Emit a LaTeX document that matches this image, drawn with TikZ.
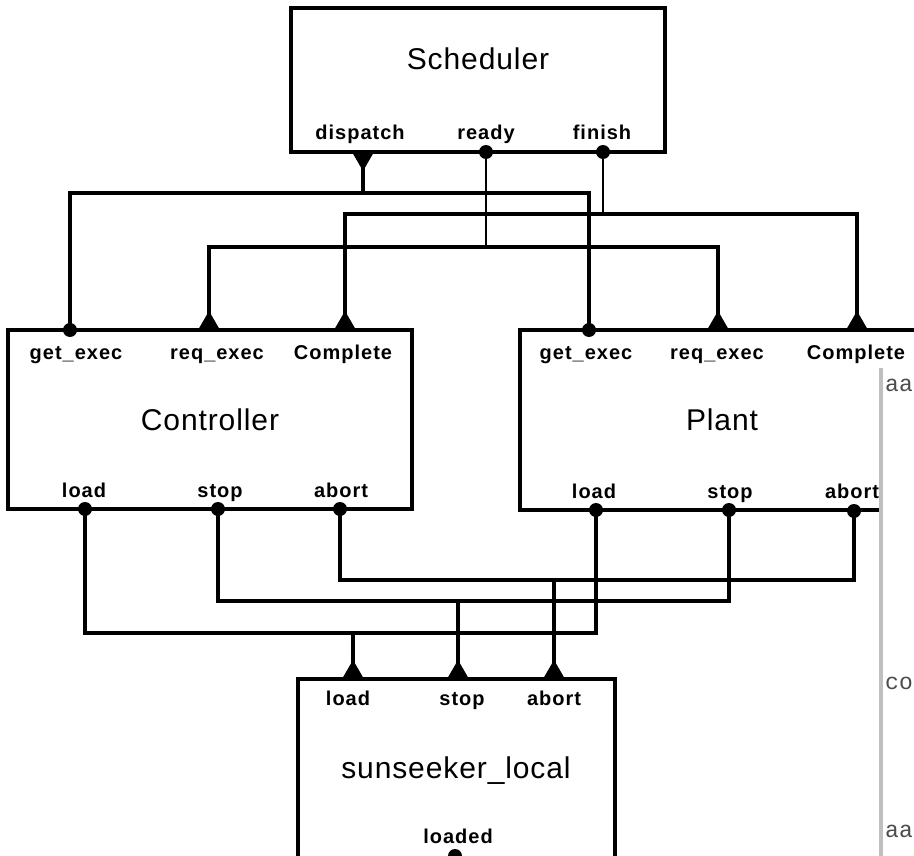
\documentclass[tikz,border=0pt]{standalone}
\usepackage{fontspec}
\setmainfont{Liberation Sans}
\newfontfamily\titlefont[LetterSpace=3]{Liberation Sans}
\newfontfamily\portfont[LetterSpace=5]{Liberation Sans}
\newfontfamily\overlaymono{Liberation Mono}
\tikzset{
  box/.style={draw, line width=3.6pt, rectangle, inner sep=0pt, outer sep=0pt},
  wire/.style={line width=3.4pt, line join=miter},
  thinwire/.style={line width=2.4pt},
  title/.style={font=\titlefont\fontsize{30}{32}\selectfont, anchor=base, inner sep=0pt},
  port/.style={font=\portfont\bfseries\fontsize{20}{22}\selectfont, anchor=base, inner sep=0pt},
  frag/.style={font=\overlaymono\fontsize{23}{25}\selectfont, anchor=base west, inner sep=0pt, text=black!70}
}
\newcommand\uptri[1]{\fill (#1) ++(-11,0) -- ++(22,0) -- ++(-11,-19) -- cycle;}
\newcommand\downtri[1]{\fill (#1) ++(-11,0) -- ++(22,0) -- ++(-11,19) -- cycle;}
\newcommand\portdot[1]{\fill (#1) circle[radius=7pt];}
\begin{document}
\begin{tikzpicture}[x=1pt,y=-1pt]
\useasboundingbox (0,0) rectangle (914,856);
\begin{scope}
\clip (0,0) rectangle (914,856);
% boxes
\node[box, minimum width=374pt, minimum height=144pt] (sched) at (478,80) {};
\node[box, minimum width=404pt, minimum height=179pt] (ctrl) at (210,419.5) {};
\node[box, minimum width=440pt, minimum height=180pt] (plant) at (740,420) {};
\node[box, minimum width=317pt, minimum height=221pt] (sun) at (456.5,789.5) {};
% ports
\coordinate (s-disp) at (363,152);
\coordinate (s-ready) at (486,152);
\coordinate (s-fin) at (603,152);
\coordinate (c-get) at (70,330);
\coordinate (c-req) at (209,330);
\coordinate (c-comp) at (345,330);
\coordinate (p-get) at (589,330);
\coordinate (p-req) at (718,330);
\coordinate (p-comp) at (857,330);
\coordinate (c-load) at (85,509);
\coordinate (c-stop) at (218,509);
\coordinate (c-abort) at (340,509);
\coordinate (p-load) at (596,510);
\coordinate (p-stop) at (729,510);
\coordinate (p-abort) at (854,511);
\coordinate (u-load) at (353,679);
\coordinate (u-stop) at (458,679);
\coordinate (u-abort) at (554,679);
\coordinate (u-loaded) at (455,856);
% bus junctions
\coordinate (b-disp) at (363,193);
\coordinate (b-ready) at (486,247);
\coordinate (b-fin) at (603,214);
\coordinate (b-load) at (353,633);
\coordinate (b-stop) at (458,601);
\coordinate (b-abort) at (554,580);
% wires top
\draw[wire] (c-get) |- (b-disp) -| (p-get);
\draw[wire] (s-disp) -- (b-disp);
\draw[wire] (c-req) |- (b-ready) -| (p-req);
\draw[thinwire] (s-ready) -- (b-ready);
\draw[wire] (c-comp) |- (b-fin) -| (p-comp);
\draw[thinwire] (s-fin) -- (b-fin);
% wires bottom
\draw[wire] (c-load) |- (b-load) -| (p-load);
\draw[wire] (b-load) -- (u-load);
\draw[wire] (c-stop) |- (b-stop) -| (p-stop);
\draw[wire] (b-stop) -- (u-stop);
\draw[wire] (c-abort) |- (b-abort) -| (p-abort);
\draw[wire] (b-abort) -- (u-abort);
% markers
\downtri{s-disp}
\portdot{s-ready}
\portdot{s-fin}
\portdot{c-get}
\uptri{c-req}
\uptri{c-comp}
\portdot{p-get}
\uptri{p-req}
\uptri{p-comp}
\portdot{c-load}
\portdot{c-stop}
\portdot{c-abort}
\portdot{p-load}
\portdot{p-stop}
\portdot{p-abort}
\uptri{u-load}
\uptri{u-stop}
\uptri{u-abort}
\portdot{u-loaded}
% titles
\node[title] (t-sched) at (478,70) {Scheduler};
\node[title] (t-ctrl) at (210,430) {Controller};
\node[title] (t-plant) at (722,430) {Plant};
\node[title] (t-sun) at (456,778) {sunseeker\_local};
% port labels
\node[port] (l-disp) at (360,140) {dispatch};
\node[port] (l-ready) at (486,140) {ready};
\node[port] (l-fin) at (602,140) {finish};
\node[port] (l-cget) at (76,359) {get\_exec};
\node[port] (l-creq) at (217,359) {req\_exec};
\node[port] (l-ccomp) at (343,359) {Complete};
\node[port] (l-pget) at (586,359) {get\_exec};
\node[port] (l-preq) at (717,359) {req\_exec};
\node[port] (l-pcomp) at (856,359) {Complete};
\node[port] (l-cload) at (84,497) {load};
\node[port] (l-cstop) at (220,497) {stop};
\node[port] (l-cabort) at (341,497) {abort};
\node[port] (l-pload) at (594,498) {load};
\node[port] (l-pstop) at (730,498) {stop};
\node[port] (l-pabort) at (852,498) {abort};
\node[port] (l-uload) at (348,705) {load};
\node[port] (l-ustop) at (462,705) {stop};
\node[port] (l-uabort) at (554,705) {abort};
\node[port] (l-uloaded) at (458,843) {loaded};
% overlapping window at the right edge
\fill[white] (880,368) rectangle (914,856);
\draw[line width=4pt, black!25] (880.5,368) -- (880.5,856);
\node[frag] (f1) at (885,391) {aa};
\node[frag] (f2) at (885,689) {co};
\node[frag] (f3) at (885,837) {aa};
\end{scope}
\end{tikzpicture}
\end{document}
